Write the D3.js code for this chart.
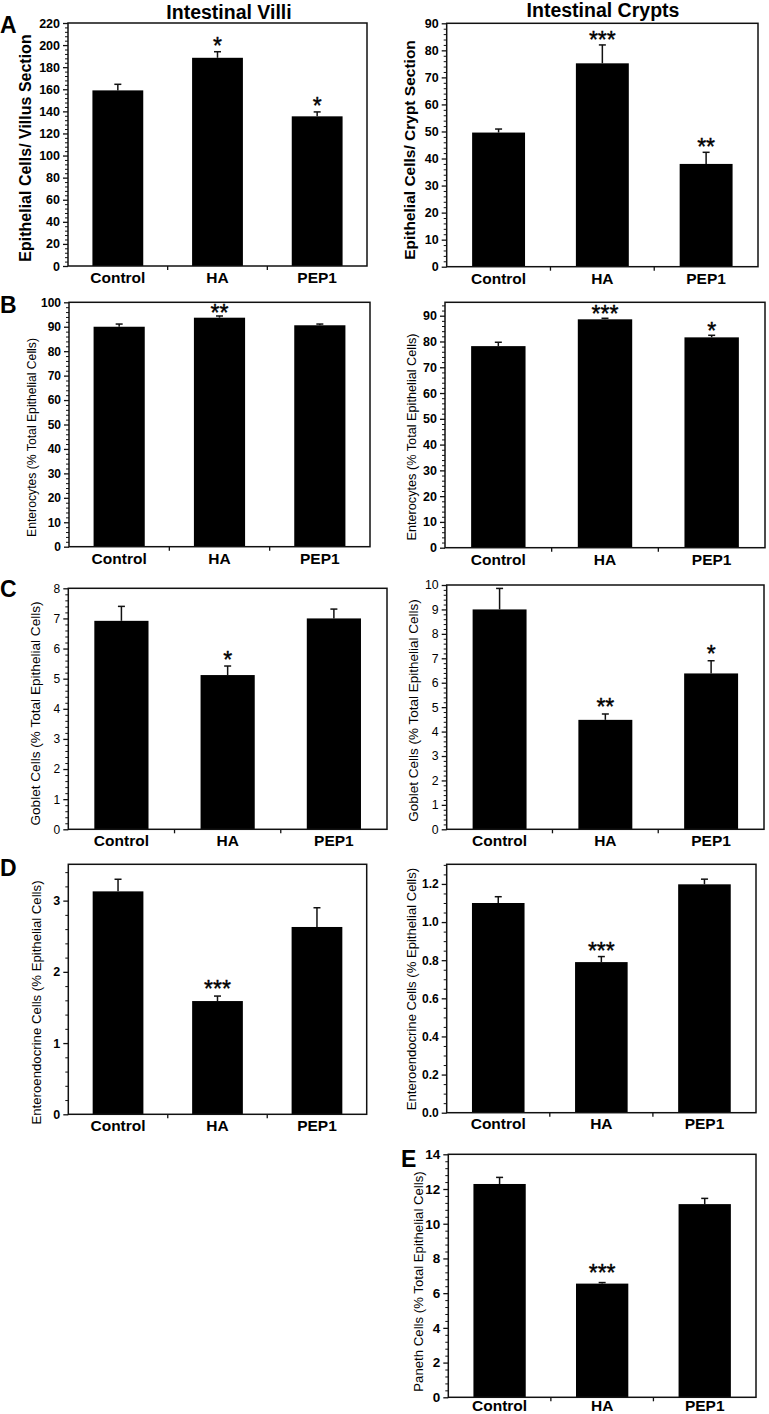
<!DOCTYPE html>
<html>
<head>
<meta charset="utf-8">
<script src="https://cdn.jsdelivr.net/npm/d3@7"></script>
<style>
  body { margin: 0; background: #fff; }
  svg { display: block; font-family: "Liberation Sans", Arial, sans-serif; }
</style>
</head>
<body>
<svg id="chart" width="769" height="1414"></svg>
<script>
// ---------------- DATA ----------------
const categories = ["Control", "HA", "PEP1"];

const villiCells      = [159, 188.5, 135.5];
const villiCellsErr   = [5.5, 5.5, 4];
const villiCellsSig   = ["", "*", "*"];

const cryptCells      = [49.6, 75.2, 38];
const cryptCellsErr   = [1.3, 6.8, 4.3];
const cryptCellsSig   = ["", "***", "**"];

const villiEntero     = [90.0, 93.7, 90.6];
const villiEnteroErr  = [1.1, 0.7, 0.5];
const villiEnteroSig  = ["", "**", ""];

const cryptEntero     = [78.2, 88.6, 81.6];
const cryptEnteroErr  = [1.5, 0.4, 0.8];
const cryptEnteroSig  = ["", "***", "*"];

const villiGoblet     = [6.92, 5.12, 7.0];
const villiGobletErr  = [0.48, 0.30, 0.31];
const villiGobletSig  = ["", "*", ""];

const cryptGoblet     = [9.0, 4.48, 6.38];
const cryptGobletErr  = [0.86, 0.24, 0.52];
const cryptGobletSig  = ["", "**", "*"];

const villiEndo       = [3.13, 1.59, 2.63];
const villiEndoErr    = [0.17, 0.07, 0.27];
const villiEndoSig    = ["", "***", ""];

const cryptEndo       = [1.10, 0.79, 1.198];
const cryptEndoErr    = [0.033, 0.029, 0.027];
const cryptEndoSig    = ["", "***", ""];

const cryptPaneth     = [12.29, 6.55, 11.13];
const cryptPanethErr  = [0.38, 0.06, 0.33];
const cryptPanethSig  = ["", "***", ""];

const columnTitles = ["Intestinal Villi", "Intestinal Crypts"];
const panelLetters = ["A", "B", "C", "D", "E"];

// -------------- LAYOUT --------------
const panels = [
  {vals: villiCells, errs: villiCellsErr, sig: villiCellsSig, yMax: 220, step: 20, minor: 4, fmt: d3.format("d"),
   l: 68, r: 367, t: 23, b: 266, label: "Epithelial Cells/ Villus Section", lBold: true, lSize: 16, lx: 25, ly: 148,
   tSize: 12.5, tBold: true, gap: 11, xlOff: 17},
  {vals: cryptCells, errs: cryptCellsErr, sig: cryptCellsSig, yMax: 90, step: 10, minor: 2, fmt: d3.format("d"),
   l: 446.7, r: 758, t: 23.3, b: 266.7, label: "Epithelial Cells/ Crypt Section", lBold: true, lSize: 15.5, lx: 410, ly: 150,
   tSize: 12.5, tBold: true, gap: 10.5, xlOff: 17},
  {vals: villiEntero, errs: villiEnteroErr, sig: villiEnteroSig, yMax: 100, step: 10, minor: 2, fmt: d3.format("d"),
   l: 69, r: 370, t: 302.3, b: 546.7, label: "Enterocytes (% Total Epithelial Cells)", lBold: false, lSize: 12.2, lx: 31.7, ly: 437.5,
   tSize: 12, tBold: true, gap: 8.5, xlOff: 17},
  {vals: cryptEntero, errs: cryptEnteroErr, sig: cryptEnteroSig, yMax: 95.2, step: 10, minor: 2, fmt: d3.format("d"),
   l: 445, r: 765, t: 302.3, b: 547.7, label: "Enterocytes (% Total Epithelial Cells)", lBold: false, lSize: 12.7, lx: 411.7, ly: 437,
   tSize: 12.5, tBold: true, gap: 9.5, xlOff: 17},
  {vals: villiGoblet, errs: villiGobletErr, sig: villiGobletSig, yMax: 8, step: 1, minor: 0.2, fmt: d3.format("d"),
   l: 68.3, r: 387, t: 588.3, b: 829.3, label: "Goblet Cells (% Total Epithelial Cells)", lBold: false, lSize: 13.6, lx: 35, ly: 713.5,
   tSize: 12, tBold: false, gap: 11, xlOff: 17},
  {vals: cryptGoblet, errs: cryptGobletErr, sig: cryptGobletSig, yMax: 10, step: 1, minor: 0.2, fmt: d3.format("d"),
   l: 446.7, r: 764, t: 585, b: 829.3, label: "Goblet Cells (% Total Epithelial Cells)", lBold: false, lSize: 13.5, lx: 413.3, ly: 710.5,
   tSize: 12.3, tBold: false, gap: 12, xlOff: 17},
  {vals: villiEndo, errs: villiEndoErr, sig: villiEndoSig, yMax: 3.51, step: 1, minor: 0.2, fmt: d3.format("d"),
   l: 68.3, r: 366.7, t: 864.3, b: 1114.3, label: "Enteroendocrine Cells (% Epithelial Cells)", lBold: false, lSize: 13.2, lx: 36.7, ly: 1002.5,
   tSize: 12.5, tBold: true, gap: 12, xlOff: 17},
  {vals: cryptEndo, errs: cryptEndoErr, sig: cryptEndoSig, yMax: 1.303, step: 0.2, minor: 0.05, fmt: d3.format(".1f"),
   l: 446.7, r: 756, t: 864.3, b: 1112.7, label: "Enteroendocrine Cells (% Epithelial Cells)", lBold: false, lSize: 13.1, lx: 411.7, ly: 989,
   tSize: 12, tBold: true, gap: 10.7, xlOff: 16},
  {vals: cryptPaneth, errs: cryptPanethErr, sig: cryptPanethSig, yMax: 14, step: 2, minor: 0.4, fmt: d3.format("d"),
   l: 448.3, r: 756, t: 1154.3, b: 1397.3, label: "Paneth Cells (% Total Epithelial Cells)", lBold: false, lSize: 13.2, lx: 418.3, ly: 1281.5,
   tSize: 13.5, tBold: true, gap: 15, xlOff: 13.5}
];

const titlePos = [{x: 229, y: 18.5}, {x: 603, y: 17}];
const letterPos = [{x: 0, y: 33}, {x: 0, y: 313}, {x: 0, y: 597}, {x: 0, y: 876}, {x: 401, y: 1167}];

const svg = d3.select("#chart");
svg.append("rect").attr("width", 769).attr("height", 1414).attr("fill", "#fff");

const INK = "#111";
const STAR_FS = 23;

panels.forEach(p => {
  const g = svg.append("g");
  const y = d3.scaleLinear().domain([0, p.yMax]).range([p.b, p.t]);
  const x = d3.scaleBand().domain(categories).range([p.l, p.r]).paddingInner(0.49).paddingOuter(0.245);

  // bars
  g.selectAll("rect.bar").data(categories).join("rect")
    .attr("class", "bar")
    .attr("x", c => x(c))
    .attr("y", (c, i) => y(p.vals[i]))
    .attr("width", x.bandwidth())
    .attr("height", (c, i) => p.b - y(p.vals[i]))
    .attr("fill", "#000");

  // error bars (upper only)
  categories.forEach((c, i) => {
    const cx = x(c) + x.bandwidth() / 2;
    const y0 = y(p.vals[i]), y1 = y(p.vals[i] + p.errs[i]);
    g.append("line").attr("x1", cx).attr("x2", cx).attr("y1", y0).attr("y2", y1)
      .attr("stroke", INK).attr("stroke-width", 1.5);
    g.append("line").attr("x1", cx - 3.5).attr("x2", cx + 3.5).attr("y1", y1).attr("y2", y1)
      .attr("stroke", INK).attr("stroke-width", 1.5);
    if (p.sig[i]) {
      g.append("text").attr("x", cx).attr("y", y1 - p.gap + 0.58 * STAR_FS)
        .attr("text-anchor", "middle").attr("font-size", STAR_FS).attr("fill", "#000")
        .attr("stroke", "#000").attr("stroke-width", 0.4)
        .text(p.sig[i]);
    }
  });

  // y axis ticks
  const nMaj = Math.floor(p.yMax / p.step + 1e-6);
  const major = d3.range(0, nMaj + 1).map(k => +(k * p.step).toFixed(4));
  const nMin = Math.floor(p.yMax / p.minor + 1e-6);
  const minor = d3.range(0, nMin + 1).map(k => +(k * p.minor).toFixed(4))
    .filter(v => !major.some(m => Math.abs(m - v) < 1e-6));

  const axMinor = g.append("g").attr("transform", `translate(${p.l},0)`)
    .call(d3.axisLeft(y).tickValues(minor).tickSize(3).tickFormat(""));
  axMinor.select(".domain").remove();
  axMinor.selectAll("line").attr("stroke", INK).attr("stroke-width", 1);

  const axMajor = g.append("g").attr("transform", `translate(${p.l},0)`)
    .call(d3.axisLeft(y).tickValues(major).tickSize(5).tickPadding(3).tickFormat(p.fmt));
  axMajor.select(".domain").remove();
  axMajor.selectAll("line").attr("stroke", INK).attr("stroke-width", 1.3);
  axMajor.selectAll("text")
    .attr("font-family", "Liberation Sans, Arial, sans-serif")
    .attr("font-size", p.tSize)
    .attr("font-weight", p.tBold ? "bold" : "normal")
    .attr("fill", "#000");

  // x-axis ticks at band boundaries
  const stepW = x.step();
  [1, 2].forEach(k => {
    const xx = p.l + stepW * k;
    g.append("line").attr("x1", xx).attr("x2", xx).attr("y1", p.b).attr("y2", p.b + 4)
      .attr("stroke", INK).attr("stroke-width", 1.3);
  });

  // x labels
  g.selectAll("text.xl").data(categories).join("text")
    .attr("class", "xl")
    .attr("x", c => x(c) + x.bandwidth() / 2)
    .attr("y", p.b + p.xlOff)
    .attr("text-anchor", "middle")
    .attr("font-size", 15.5).attr("font-weight", "bold").attr("fill", "#000")
    .text(c => c);

  // frame
  g.append("rect").attr("x", p.l).attr("y", p.t).attr("width", p.r - p.l).attr("height", p.b - p.t)
    .attr("fill", "none").attr("stroke", INK).attr("stroke-width", 1.5);

  // y label
  g.append("text")
    .attr("transform", `translate(${p.lx},${p.ly}) rotate(-90)`)
    .attr("dy", "0.35em")
    .attr("text-anchor", "middle")
    .attr("font-size", p.lSize)
    .attr("font-weight", p.lBold ? "bold" : "normal")
    .attr("fill", "#000")
    .text(p.label);
});

// column titles
svg.selectAll("text.title").data(columnTitles).join("text")
  .attr("class", "title")
  .attr("x", (d, i) => titlePos[i].x).attr("y", (d, i) => titlePos[i].y)
  .attr("text-anchor", "middle").attr("font-size", 19.5).attr("font-weight", "bold").attr("fill", "#000")
  .text(d => d);

// panel letters
svg.selectAll("text.letter").data(panelLetters).join("text")
  .attr("class", "letter")
  .attr("x", (d, i) => letterPos[i].x).attr("y", (d, i) => letterPos[i].y)
  .attr("font-size", 23).attr("font-weight", "bold").attr("fill", "#000")
  .text(d => d);
</script>
</body>
</html>
